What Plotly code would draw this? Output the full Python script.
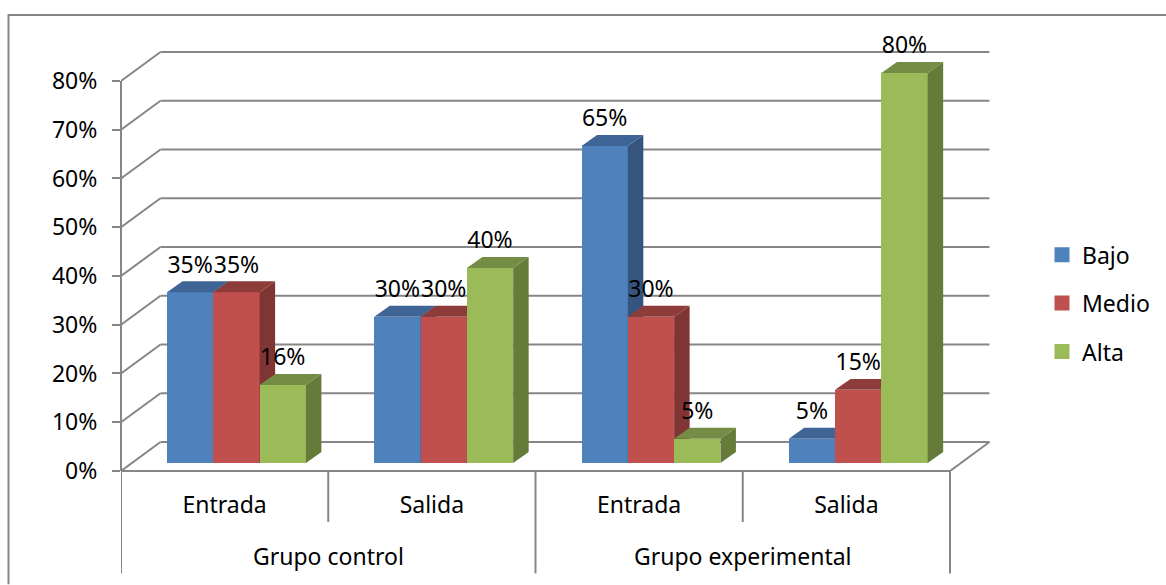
import plotly.graph_objects as go

# ---- data ----
grupos = ["Grupo control", "Grupo experimental"]
sesiones = ["Entrada", "Salida", "Entrada", "Salida"]
series_names = ["Bajo", "Medio", "Alta"]
bajo = [35, 30, 65, 5]
medio = [35, 30, 30, 15]
alta = [16, 40, 5, 80]
y_ticks = [0, 10, 20, 30, 40, 50, 60, 70, 80]
y_ticktext = ["0%", "10%", "20%", "30%", "40%", "50%", "60%", "70%", "80%"]

# ---- styling / projection constants ----
W, H = 1166, 585
PL, PR, PT, PB = 121, 991, 30, 471.5      # plot box in page pixels
PX_X = (950 - 121) / 4                    # px per category
PX_Y = (471.5 - 81) / 80                  # px per percent
XR = [-0.5, -0.5 + (PR - PL) / PX_X]
YR = [0, (PB - PT) / PX_Y]
GRID = "#868686"
FONT = "Noto Sans, Open Sans, sans-serif"
FS = 23
front = ["#4F81BD", "#C0504D", "#9BBB59"]
top_c = ["#3E6595", "#8E3C3A", "#748C44"]
side_c = ["#35557E", "#7F3533", "#667A3A"]

wall_dx, wall_dy = 39.5 / PX_X, 29 / PX_Y   # depth of the floor
bar_w = 46.3 / PX_X
bar_off = -57.6 / PX_X
bar_base = 8 / PX_Y
side_dx, side_dy = 15.5 / PX_X, 11 / PX_Y
label_up = 25.5 / PX_Y


def py(pixel_y):
    return (PB - pixel_y) / (PB - PT)


fig = go.Figure()

cats = list(range(len(sesiones)))

# base subplot: only carries the category axis
fig.add_trace(go.Scatter(
    x=cats, y=[None] * 4, mode="markers",
    showlegend=False, hoverinfo="skip", marker=dict(opacity=0), xaxis="x", yaxis="y"))

vals = [bajo, medio, alta]
for s, name in enumerate(series_names):
    xa, ya = f"x{s + 2}", f"y{s + 2}"
    fig.add_trace(go.Bar(
        x=cats, y=vals[s], base=bar_base, width=bar_w, offset=bar_off + s * bar_w,
        marker=dict(color=front[s], line=dict(width=0)), name=name,
        legendgroup=name, showlegend=False, xaxis=xa, yaxis=ya,
        hovertemplate=name + ": %{y}%<extra></extra>"))
    sx, sy, tx, ty = [], [], [], []
    for c, v in zip(cats, vals[s]):
        x0 = c + bar_off + s * bar_w
        x1 = x0 + bar_w
        t = bar_base + v
        sx += [x1, x1 + side_dx, x1 + side_dx, x1, x1, None]
        sy += [bar_base, bar_base + side_dy, t + side_dy, t, bar_base, None]
        tx += [x0, x1, x1 + side_dx, x0 + side_dx, x0, None]
        ty += [t, t, t + side_dy, t + side_dy, t, None]
    for qx, qy, col in ((sx, sy, side_c[s]), (tx, ty, top_c[s])):
        fig.add_trace(go.Scatter(
            x=qx, y=qy, mode="lines", fill="toself", fillcolor=col,
            line=dict(width=0, color=col), showlegend=False, hoverinfo="skip",
            xaxis=xa, yaxis=ya))
    # legend swatch
    fig.add_trace(go.Scatter(
        x=[None], y=[None], mode="markers", name=name, legendgroup=name,
        marker=dict(symbol="square", size=15, color=front[s]),
        xaxis=xa, yaxis=ya))

# data labels on the top layer
for s in range(3):
    fig.add_trace(go.Scatter(
        x=[c + bar_off + (s + 0.5) * bar_w for c in cats],
        y=[bar_base + v + label_up for v in vals[s]],
        text=[f"{v}%" for v in vals[s]], mode="text", textposition="middle center",
        textfont=dict(family=FONT, size=FS, color="#000000"),
        showlegend=False, hoverinfo="skip", cliponaxis=False, xaxis="x5", yaxis="y5"))

# walls and floor
shapes = []
x_left, x_right = XR[0], XR[0] + len(cats)
line = dict(color=GRID, width=2)
for v in y_ticks:
    shapes.append(dict(type="line", xref="x", yref="y", layer="below",
                       x0=x_left + wall_dx, x1=x_right + wall_dx,
                       y0=v + wall_dy, y1=v + wall_dy, line=line))
    shapes.append(dict(type="line", xref="x", yref="y", layer="below",
                       x0=x_left, x1=x_left + wall_dx,
                       y0=v, y1=v + wall_dy, line=line))
shapes.append(dict(type="line", xref="x", yref="y", layer="below",
                   x0=x_right, x1=x_right + wall_dx, y0=0, y1=wall_dy, line=line))
# value axis line and category axis line
shapes.append(dict(type="line", xref="paper", yref="y", x0=0, x1=0, y0=0, y1=y_ticks[-1], line=line))
shapes.append(dict(type="line", xref="x", yref="paper", x0=x_left, x1=x_right, y0=0, y1=0, line=line))
# category dividers: full height at group ends, short between sessions
for i in range(len(cats) + 1):
    bottom = 574 if i % 2 == 0 else 522.5
    shapes.append(dict(type="line", xref="x", yref="paper",
                       x0=x_left + i, x1=x_left + i, y0=0, y1=py(bottom), line=line))
# chart frame
fx = (8.5 - PL) / (PR - PL)
shapes.append(dict(type="path", xref="paper", yref="paper", layer="below",
                   path=f"M {fx} {py(585)} L {fx} {py(15)} L {(W - PL) / (PR - PL)} {py(15)}",
                   line=dict(color=GRID, width=2)))

# group labels under the sessions
annotations = [
    dict(text=g, xref="x", yref="paper", x=x_left + 1 + 2 * i, y=py(557),
         showarrow=False, xanchor="center", yanchor="middle",
         font=dict(family=FONT, size=FS, color="#000000"))
    for i, g in enumerate(grupos)
]

overlay_x = dict(overlaying="x", range=XR, visible=False, fixedrange=True)
overlay_y = dict(overlaying="y", range=YR, visible=False, fixedrange=True)

fig.update_layout(
    width=W, height=H, autosize=False,
    margin=dict(l=PL, r=W - PR, t=PT, b=H - PB, pad=0, autoexpand=False),
    paper_bgcolor="white", plot_bgcolor="rgba(0,0,0,0)",
    font=dict(family=FONT, size=FS, color="#000000"),
    shapes=shapes, annotations=annotations,
    xaxis=dict(range=XR, tickvals=cats, ticktext=sesiones, showgrid=False, zeroline=False,
               showline=False, ticks="", ticklabelstandoff=18,
               tickfont=dict(family=FONT, size=FS), fixedrange=True),
    yaxis=dict(range=YR, tickvals=y_ticks, ticktext=y_ticktext, showgrid=False,
               zeroline=False, showline=False,
               ticks="outside", tickcolor=GRID, tickwidth=2, ticklen=8, ticklabelstandoff=10,
               tickfont=dict(family=FONT, size=FS), fixedrange=True),
    xaxis2=overlay_x, xaxis3=overlay_x, xaxis4=overlay_x, xaxis5=overlay_x,
    yaxis2=dict(overlay_y, anchor="x2"), yaxis3=dict(overlay_y, anchor="x3"),
    yaxis4=dict(overlay_y, anchor="x4"), yaxis5=dict(overlay_y, anchor="x5"),
    legend=dict(x=(1042 - PL) / (PR - PL), xanchor="left", y=py(233.5),
                yanchor="top", tracegroupgap=15.5, bgcolor="rgba(0,0,0,0)",
                font=dict(family=FONT, size=FS), itemwidth=30),
    bargap=0,
)
fig.write_html("out.html", config=dict(displayModeBar=False),
               post_script="document.body.style.margin='0';")
